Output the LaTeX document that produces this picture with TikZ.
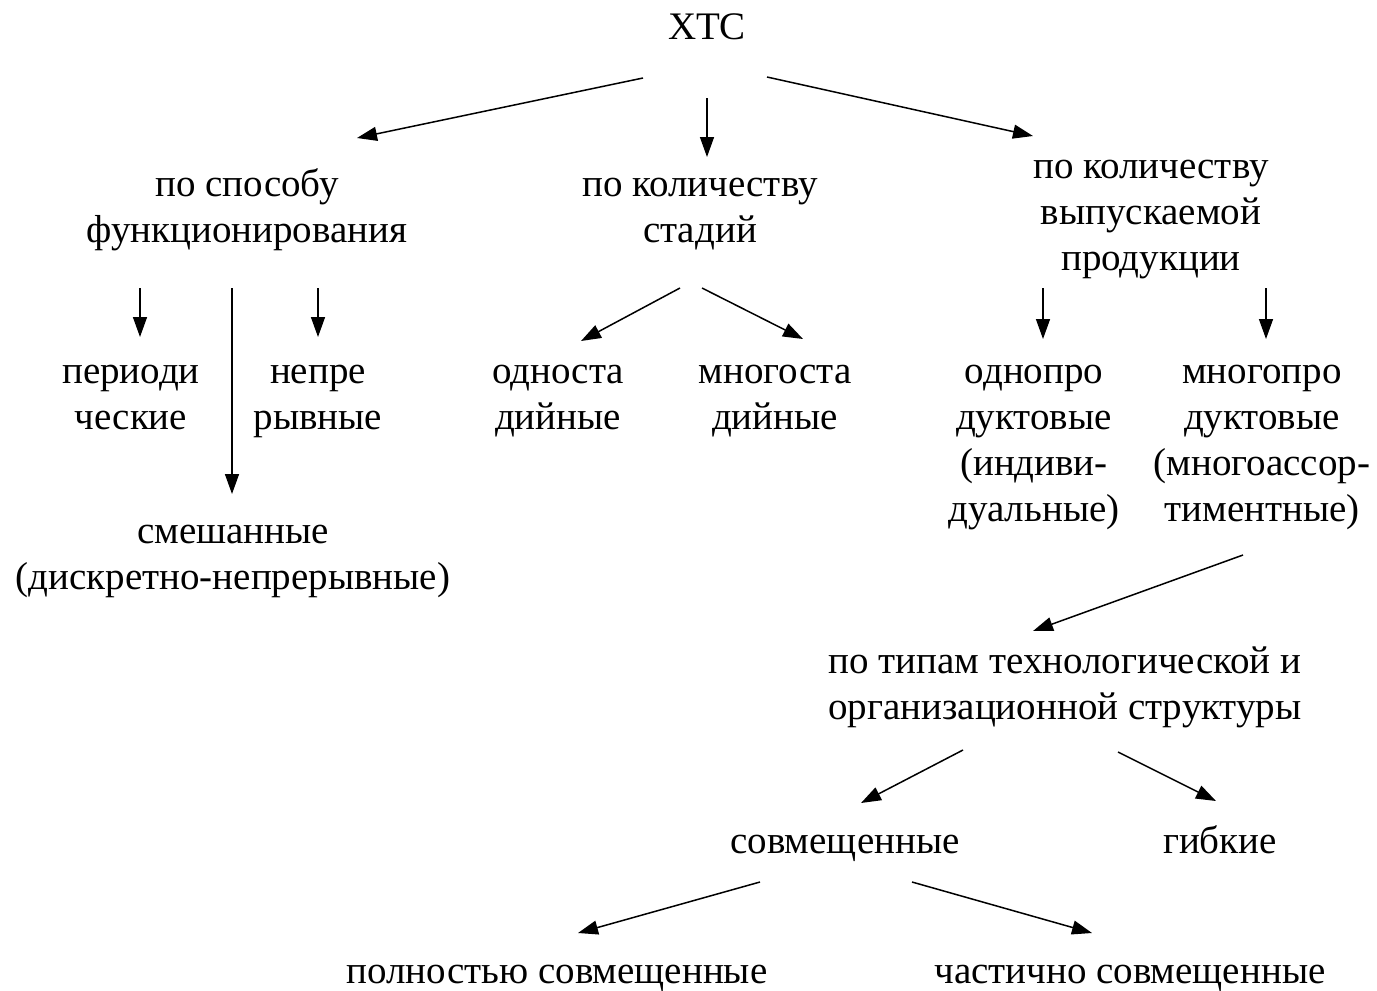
\documentclass[tikz,border=0pt]{standalone}
\usepackage{fontspec}
\setmainfont{Liberation Serif}
\usetikzlibrary{arrows.meta}
\begin{document}
\begin{tikzpicture}[x=0.5pt,y=-0.5pt,
  lbl/.style={align=center,inner sep=0pt,anchor=base,font=\fontsize{19.5}{23}\selectfont},
  arr/.style={line width=0.75pt,-{Triangle[length=10pt,width=7pt]}}]
\useasboundingbox (0,0) rectangle (1377,991);
% base anchor = baseline of the last line
\node[lbl] (xtc) at (707,39) {ХТС};
\node[lbl] (sposob) at (247,242) {по способу\\функционирования};
\node[lbl] (stadii) at (700,242) {по количеству\\стадий};
\node[lbl] (prod) at (1151,270) {по количеству\\выпускаемой\\продукции};
\node[lbl] (period) at (131,429) {периоди\\ческие};
\node[lbl] (nepr) at (318,429) {непре\\рывные};
\node[lbl] (smesh) at (233,589) {смешанные\\(дискретно-непрерывные)};
\node[lbl] (odnost) at (558,429) {односта\\дийные};
\node[lbl] (mnogost) at (775,429) {многоста\\дийные};
\node[lbl] (odnopr) at (1034,521) {однопро\\дуктовые\\(индиви-\\дуальные)};
\node[lbl] (mnogopr) at (1262,521) {многопро\\дуктовые\\(многоассор-\\тиментные)};
\node[lbl] (tipy) at (1065,719) {по типам технологической и\\организационной структуры};
\node[lbl] (sovm) at (845,853) {совмещенные};
\node[lbl] (gibk) at (1220,853) {гибкие};
\node[lbl] (poln) at (557,983) {полностью совмещенные};
\node[lbl] (chast) at (1130,983) {частично совмещенные};
% connector ends
\coordinate (a1s) at (643,78);  \coordinate (a1e) at (357,138);
\coordinate (a2s) at (707,98);  \coordinate (a2e) at (707,157);
\coordinate (a3s) at (767,77);  \coordinate (a3e) at (1033,136);
\coordinate (b1s) at (140,288); \coordinate (b1e) at (140,337);
\coordinate (b2s) at (318,288); \coordinate (b2e) at (318,337);
\coordinate (b3s) at (232,288); \coordinate (b3e) at (232,494);
\coordinate (c1s) at (680,288); \coordinate (c1e) at (581,341);
\coordinate (c2s) at (702,288); \coordinate (c2e) at (803,339);
\coordinate (d1s) at (1043,288); \coordinate (d1e) at (1043,339);
\coordinate (d2s) at (1266,288); \coordinate (d2e) at (1266,339);
\coordinate (e1s) at (1243,555); \coordinate (e1e) at (1033,631);
\coordinate (f1s) at (963,750); \coordinate (f1e) at (861,803);
\coordinate (f2s) at (1118,752); \coordinate (f2e) at (1216,801);
\coordinate (g1s) at (760,882); \coordinate (g1e) at (578,933);
\coordinate (g2s) at (912,882); \coordinate (g2e) at (1092,933);
\draw[arr] (a1s) -- (a1e);
\draw[arr] (a2s) -- (a2e);
\draw[arr] (a3s) -- (a3e);
\draw[arr] (b1s) -- (b1e);
\draw[arr] (b2s) -- (b2e);
\draw[arr] (b3s) -- (b3e);
\draw[arr] (c1s) -- (c1e);
\draw[arr] (c2s) -- (c2e);
\draw[arr] (d1s) -- (d1e);
\draw[arr] (d2s) -- (d2e);
\draw[arr] (e1s) -- (e1e);
\draw[arr] (f1s) -- (f1e);
\draw[arr] (f2s) -- (f2e);
\draw[arr] (g1s) -- (g1e);
\draw[arr] (g2s) -- (g2e);
\end{tikzpicture}
\end{document}
